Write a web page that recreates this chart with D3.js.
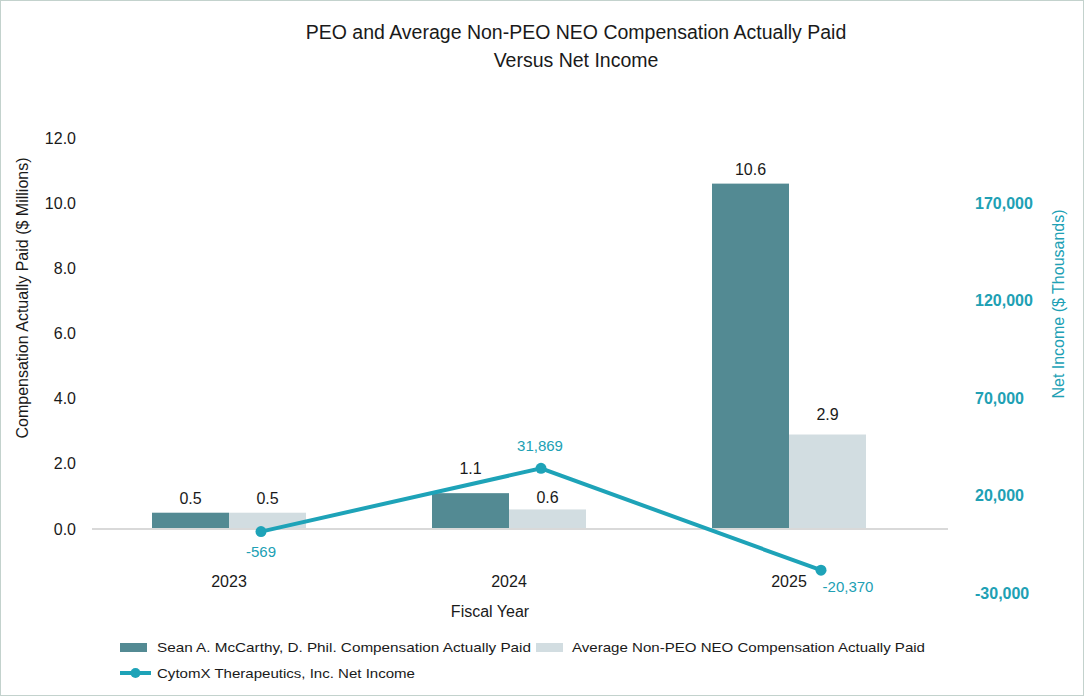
<!DOCTYPE html>
<html>
<head>
<meta charset="utf-8">
<script src="https://cdn.jsdelivr.net/npm/d3@7"></script>
<style>
  body { margin: 0; background: #fff; }
  svg { display: block; font-family: "Liberation Sans", Arial, sans-serif; }
</style>
</head>
<body>
<svg id="chart" width="1086" height="698"></svg>
<script>
// data
var years = ["2023", "2024", "2025"];
var peoPaid = [0.5, 1.1, 10.6];
var neoPaid = [0.5, 0.6, 2.9];
var netIncome = [-569, 31869, -20370];
var leftTicks = [0, 2, 4, 6, 8, 10, 12];
var rightTicks = [-30000, 20000, 70000, 120000, 170000];
var seriesNames = [
  "Sean A. McCarthy, D. Phil. Compensation Actually Paid",
  "Average Non-PEO NEO Compensation Actually Paid",
  "CytomX Therapeutics, Inc. Net Income"
];

var COLOR = {
  peo: "#538a93",
  neo: "#d2dde1",
  line: "#1ea3b8",
  teal: "#20a0b4",
  text: "#1a1a1a",
  axis: "#d9d9d9"
};

var svg = d3.select("#chart");
var width = 1086, height = 698;

// outer frame
svg.append("rect")
  .attr("x", 0.5).attr("y", 0.5)
  .attr("width", width - 3).attr("height", height - 3)
  .attr("fill", "#fff")
  .attr("stroke", "#c3d2cd");

// title
svg.append("text")
  .attr("x", 576).attr("y", 39)
  .attr("text-anchor", "middle")
  .attr("font-size", 19.5)
  .attr("fill", COLOR.text)
  .text("PEO and Average Non-PEO NEO Compensation Actually Paid");
svg.append("text")
  .attr("x", 576).attr("y", 67)
  .attr("text-anchor", "middle")
  .attr("font-size", 19.5)
  .attr("fill", COLOR.text)
  .text("Versus Net Income");

// scales
var x = d3.scaleBand()
  .domain(years)
  .range([89, 929])
  .paddingInner(0.45)
  .paddingOuter(0.225);

var sub = d3.scaleBand()
  .domain(["peo", "neo"])
  .range([0, x.bandwidth()]);

var y = d3.scaleLinear().domain([0, 12]).range([529, 138]);
var yR = d3.scaleLinear().domain([-30000, 170000]).range([589, 199]);

// left axis labels
svg.append("g")
  .selectAll("text")
  .data(leftTicks)
  .enter()
  .append("text")
  .attr("x", 76)
  .attr("y", function (d) { return y(d); })
  .attr("dy", "0.35em")
  .attr("text-anchor", "end")
  .attr("font-size", 16)
  .attr("fill", COLOR.text)
  .text(function (d) { return d3.format(".1f")(d); });

// right axis labels (bold, teal)
svg.append("g")
  .selectAll("text")
  .data(rightTicks)
  .enter()
  .append("text")
  .attr("x", 975)
  .attr("y", function (d) { return yR(d) + 4; })
  .attr("dy", "0.35em")
  .attr("font-size", 16)
  .attr("font-weight", "bold")
  .attr("fill", COLOR.teal)
  .text(function (d) { return d3.format(",")(d).replace("−", "-"); });

// axis titles
svg.append("text")
  .attr("transform", "translate(28,298) rotate(-90)")
  .attr("text-anchor", "middle")
  .attr("font-size", 16)
  .attr("fill", COLOR.text)
  .text("Compensation Actually Paid ($ Millions)");

svg.append("text")
  .attr("transform", "translate(1064,304) rotate(-90)")
  .attr("text-anchor", "middle")
  .attr("font-size", 16)
  .attr("fill", COLOR.teal)
  .text("Net Income ($ Thousands)");

// bars
var barData = [];
years.forEach(function (yr, i) {
  barData.push({ year: yr, key: "peo", value: peoPaid[i] });
  barData.push({ year: yr, key: "neo", value: neoPaid[i] });
});

svg.append("g")
  .selectAll("rect")
  .data(barData)
  .enter()
  .append("rect")
  .attr("x", function (d) { return x(d.year) + sub(d.key); })
  .attr("y", function (d) { return y(d.value); })
  .attr("width", sub.bandwidth())
  .attr("height", function (d) { return y(0) - y(d.value); })
  .attr("fill", function (d) { return COLOR[d.key]; });

// gap between bar top and its label; a few are nudged as in the original
var labelGap = 9;
var labelNudge = { "2024-peo": 10, "2024-neo": -3, "2025-neo": 6 };

svg.append("g")
  .selectAll("text")
  .data(barData)
  .enter()
  .append("text")
  .attr("x", function (d) { return x(d.year) + sub(d.key) + sub.bandwidth() / 2; })
  .attr("y", function (d) {
    return y(d.value) - labelGap - (labelNudge[d.year + "-" + d.key] || 0);
  })
  .attr("text-anchor", "middle")
  .attr("font-size", 16)
  .attr("fill", COLOR.text)
  .text(function (d) { return d3.format(".1f")(d.value); });

// baseline
svg.append("line")
  .attr("x1", 92).attr("x2", 948)
  .attr("y1", y(0)).attr("y2", y(0))
  .attr("stroke", COLOR.axis)
  .attr("stroke-width", 2);

// x tick labels
svg.append("g")
  .selectAll("text")
  .data(years)
  .enter()
  .append("text")
  .attr("x", function (d) { return x(d) + x.bandwidth() / 2; })
  .attr("y", 587)
  .attr("text-anchor", "middle")
  .attr("font-size", 16)
  .attr("fill", COLOR.text)
  .text(function (d) { return d; });

svg.append("text")
  .attr("x", 490).attr("y", 617)
  .attr("text-anchor", "middle")
  .attr("font-size", 16)
  .attr("fill", COLOR.text)
  .text("Fiscal Year");

// net income line
var lineShift = 32;
var lineX = function (d, i) { return x(years[i]) + x.bandwidth() / 2 + lineShift; };

svg.append("path")
  .datum(netIncome)
  .attr("fill", "none")
  .attr("stroke", COLOR.line)
  .attr("stroke-width", 4)
  .attr("d", d3.line()
    .x(lineX)
    .y(function (d) { return yR(d); }));

svg.append("g")
  .selectAll("circle")
  .data(netIncome)
  .enter()
  .append("circle")
  .attr("cx", lineX)
  .attr("cy", function (d) { return yR(d); })
  .attr("r", 5.5)
  .attr("fill", COLOR.line);

// label placement for the line values: below, above, below-right
var labelOffset = [[0, 25], [-1, -17], [27, 22]];
svg.append("g")
  .selectAll("text")
  .data(netIncome)
  .enter()
  .append("text")
  .attr("x", function (d, i) { return lineX(d, i) + labelOffset[i][0]; })
  .attr("y", function (d, i) { return yR(d) + labelOffset[i][1]; })
  .attr("text-anchor", "middle")
  .attr("font-size", 15)
  .attr("fill", COLOR.teal)
  .text(function (d) { return d3.format(",")(d).replace("−", "-"); });

// legend
var legend = svg.append("g").attr("font-size", 13).attr("fill", COLOR.text);

legend.append("rect")
  .attr("x", 120).attr("y", 643).attr("width", 27).attr("height", 9)
  .attr("fill", COLOR.peo);
legend.append("text")
  .attr("x", 157).attr("y", 652)
  .attr("textLength", 374).attr("lengthAdjust", "spacingAndGlyphs")
  .text(seriesNames[0]);

legend.append("rect")
  .attr("x", 536).attr("y", 643).attr("width", 27).attr("height", 9)
  .attr("fill", COLOR.neo);
legend.append("text")
  .attr("x", 572).attr("y", 652)
  .attr("textLength", 353).attr("lengthAdjust", "spacingAndGlyphs")
  .text(seriesNames[1]);

legend.append("line")
  .attr("x1", 120).attr("x2", 151)
  .attr("y1", 673).attr("y2", 673)
  .attr("stroke", COLOR.line).attr("stroke-width", 4);
legend.append("circle")
  .attr("cx", 135.5).attr("cy", 673).attr("r", 5)
  .attr("fill", COLOR.line);
legend.append("text")
  .attr("x", 157).attr("y", 678)
  .attr("textLength", 258).attr("lengthAdjust", "spacingAndGlyphs")
  .text(seriesNames[2]);
</script>
</body>
</html>
